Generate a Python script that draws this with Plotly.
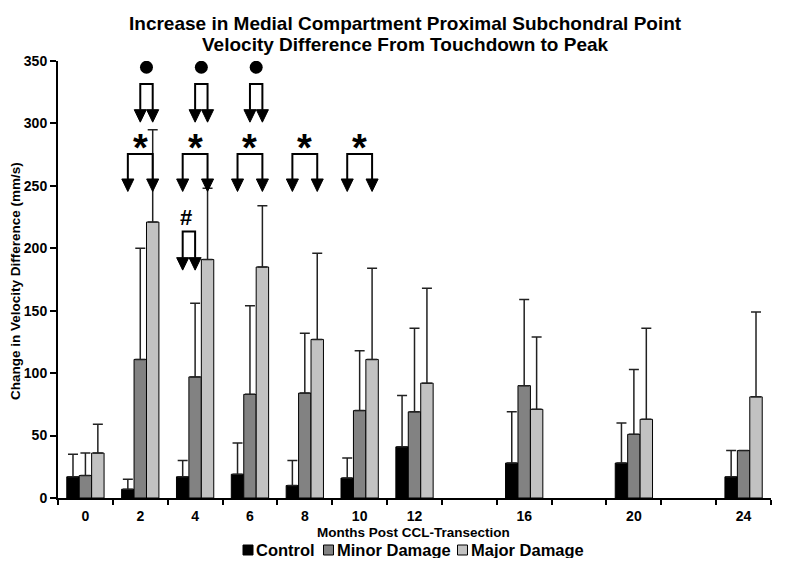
import plotly.graph_objects as go

# ---------------- data ----------------
months = [0, 2, 4, 6, 8, 10, 12, 16, 20, 24]
month_labels = [str(m) for m in months]

series_names = ["Control", "Minor Damage", "Major Damage"]
series_colors = ["#000000", "#828282", "#c2c2c2"]

control = [17, 7, 17, 19, 10, 16, 41, 28, 28, 17]
control_err = [18, 8, 13, 25, 20, 16, 41, 41, 32, 21]

minor = [18, 111, 97, 83, 84, 70, 69, 90, 51, 38]
minor_err = [18, 89, 59, 71, 48, 48, 67, 69, 52, 0]

major = [36, 221, 191, 185, 127, 111, 92, 71, 63, 81]
major_err = [23, 74, 57, 49, 69, 73, 76, 58, 73, 68]

# significance markers
star_months = [2, 4, 6, 8, 10]     # control vs major
dot_months = [2, 4, 6]             # minor vs major
hash_months = [4]                  # control vs minor

# ---------------- layout constants ----------------
# the page body adds an 8 px margin, so the figure is drawn 8 px in and down
OFF = 8
W, H = 784, 550
PLOT_L, PLOT_R, PLOT_T, PLOT_B = 58, 771, 61, 498   # target pixels in the window
ML, MT = PLOT_L - OFF, PLOT_T - OFF
MR, MB = W - (PLOT_R - OFF), H - (PLOT_B - OFF)
PW, PH = PLOT_R - PLOT_L, PLOT_B - PLOT_T

GROUP_STEP = 2.0
BARGAP = 0.32
BW = GROUP_STEP * (1 - BARGAP) / 3.0   # bar width in data units

FONT = "Liberation Sans, Arial, sans-serif"


def px_x(p):
    return (p - PLOT_L) / PW


def px_y(p):
    return (PLOT_B - p) / PH


fig = go.Figure()

values = [control, minor, major]
errs = [control_err, minor_err, major_err]
for name, col, v, e in zip(series_names, series_colors, values, errs):
    fig.add_trace(go.Bar(
        x=months, y=v, name=name, showlegend=False,
        marker=dict(color=col, line=dict(color="#000000", width=1)),
        error_y=dict(type="data", array=e, arrayminus=[0] * len(e), symmetric=False,
                     color="#222222", thickness=1.5, width=5),
    ))


def bar_x(month, k):
    return month + (k - 1) * BW


TRI_W = 0.44   # data units (~12 px)
TRI_H = 10.0   # data units (~12 px)


def bracket(month, a, b, y_top, y_tip, lx, ly, tx, ty):
    xa, xb = bar_x(month, a), bar_x(month, b)
    ytri = y_tip + TRI_H
    lx += [xa, xa, xb, xb, None]
    ly += [ytri, y_top, y_top, ytri, None]
    for xc in (xa, xb):
        tx += [xc - TRI_W / 2, xc + TRI_W / 2, xc, xc - TRI_W / 2, None]
        ty += [ytri, ytri, y_tip, ytri, None]
    return (xa + xb) / 2


lx, ly, tx, ty = [], [], [], []
star_centers = [bracket(m, 0, 2, 275.5, 245.5, lx, ly, tx, ty) for m in star_months]
dot_centers = [bracket(m, 1, 2, 331.5, 301, lx, ly, tx, ty) for m in dot_months]
hash_centers = [bracket(m, 0, 1, 213.5, 182.5, lx, ly, tx, ty) for m in hash_months]

fig.add_trace(go.Scatter(x=lx, y=ly, mode="lines", line=dict(color="black", width=2),
                         showlegend=False, hoverinfo="skip"))
fig.add_trace(go.Scatter(x=tx, y=ty, mode="lines", fill="toself", fillcolor="black",
                         line=dict(color="black", width=1), showlegend=False, hoverinfo="skip"))
fig.add_trace(go.Scatter(x=dot_centers, y=[345] * len(dot_centers), mode="markers",
                         marker=dict(symbol="circle", size=13, color="black"),
                         showlegend=False, hoverinfo="skip"))

annotations = []
for xc in star_centers:
    annotations.append(dict(x=xc, y=280, xref="x", yref="y", text="<b>*</b>", showarrow=False,
                            font=dict(family=FONT, size=38, color="black"), yanchor="middle"))
for xc in hash_centers:
    annotations.append(dict(x=xc - 0.1, y=224.5, xref="x", yref="y", text="<b>#</b>", showarrow=False,
                            font=dict(family=FONT, size=22, color="black"), yanchor="middle"))

# title lines
annotations.append(dict(x=px_x(405.5), y=px_y(23), xref="paper", yref="paper", showarrow=False,
                        text="<b>Increase in Medial Compartment Proximal Subchondral Point</b>",
                        font=dict(family=FONT, size=19, color="black"), yanchor="middle"))
annotations.append(dict(x=px_x(405.5), y=px_y(45), xref="paper", yref="paper", showarrow=False,
                        text="<b>Velocity Difference From Touchdown to Peak</b>",
                        font=dict(family=FONT, size=19, color="black"), yanchor="middle"))
# axis titles
annotations.append(dict(x=px_x(15), y=px_y(281), xref="paper", yref="paper", showarrow=False,
                        text="<b>Change in Velocity Difference (mm/s)</b>", textangle=-90,
                        font=dict(family=FONT, size=13.5, color="black"),
                        xanchor="center", yanchor="middle"))
annotations.append(dict(x=px_x(413), y=px_y(532), xref="paper", yref="paper", showarrow=False,
                        text="<b>Months Post CCL-Transection</b>",
                        font=dict(family=FONT, size=13.5, color="black"),
                        xanchor="center", yanchor="middle"))

# hand-built compact legend: colour swatch + label
legend_swatch_px = [243, 323.5, 457.5]
legend_text_px = [254, 334.5, 468.5]
shapes = []
for name, col, sx, tx_ in zip(series_names, series_colors, legend_swatch_px, legend_text_px):
    shapes.append(dict(type="rect", xref="paper", yref="paper",
                       x0=px_x(sx), x1=px_x(sx + 10), y0=px_y(555), y1=px_y(545),
                       fillcolor=col, line=dict(color="black", width=1)))
    annotations.append(dict(x=px_x(tx_), y=px_y(550), xref="paper", yref="paper", showarrow=False,
                            text="<b>%s</b>" % name, xanchor="left", yanchor="middle",
                            font=dict(family=FONT, size=16.5, color="black")))

boundaries = [m - 1 for m in range(0, 26, 2)] + [25]

fig.update_layout(
    width=W, height=H,
    margin=dict(l=ML, r=MR, t=MT, b=MB, autoexpand=False),
    paper_bgcolor="white", plot_bgcolor="white",
    barmode="group", bargap=BARGAP, bargroupgap=0,
    font=dict(family=FONT, color="black"),
    showlegend=False,
    annotations=annotations,
    shapes=shapes,
    xaxis=dict(range=[-1, 25], tickmode="array", tickvals=months,
               ticktext=["<b>%s</b>" % t for t in month_labels],
               ticks="", showgrid=False, zeroline=False, automargin=False,
               showline=True, linecolor="black", linewidth=2,
               ticklabelstandoff=4,
               tickfont=dict(family=FONT, size=14, color="black"),
               minor=dict(tickmode="array", tickvals=boundaries, ticks="outside",
                          ticklen=5, tickwidth=2, tickcolor="black", showgrid=False)),
    yaxis=dict(range=[0, 350], tickmode="linear", tick0=0, dtick=50,
               ticks="outside", ticklen=6, tickwidth=2, tickcolor="black",
               showgrid=False, zeroline=False, automargin=False,
               showline=True, linecolor="black", linewidth=2,
               tickprefix="<b>", ticksuffix="</b>",
               tickfont=dict(family=FONT, size=14, color="black")),
)

fig.write_html("out.html")
